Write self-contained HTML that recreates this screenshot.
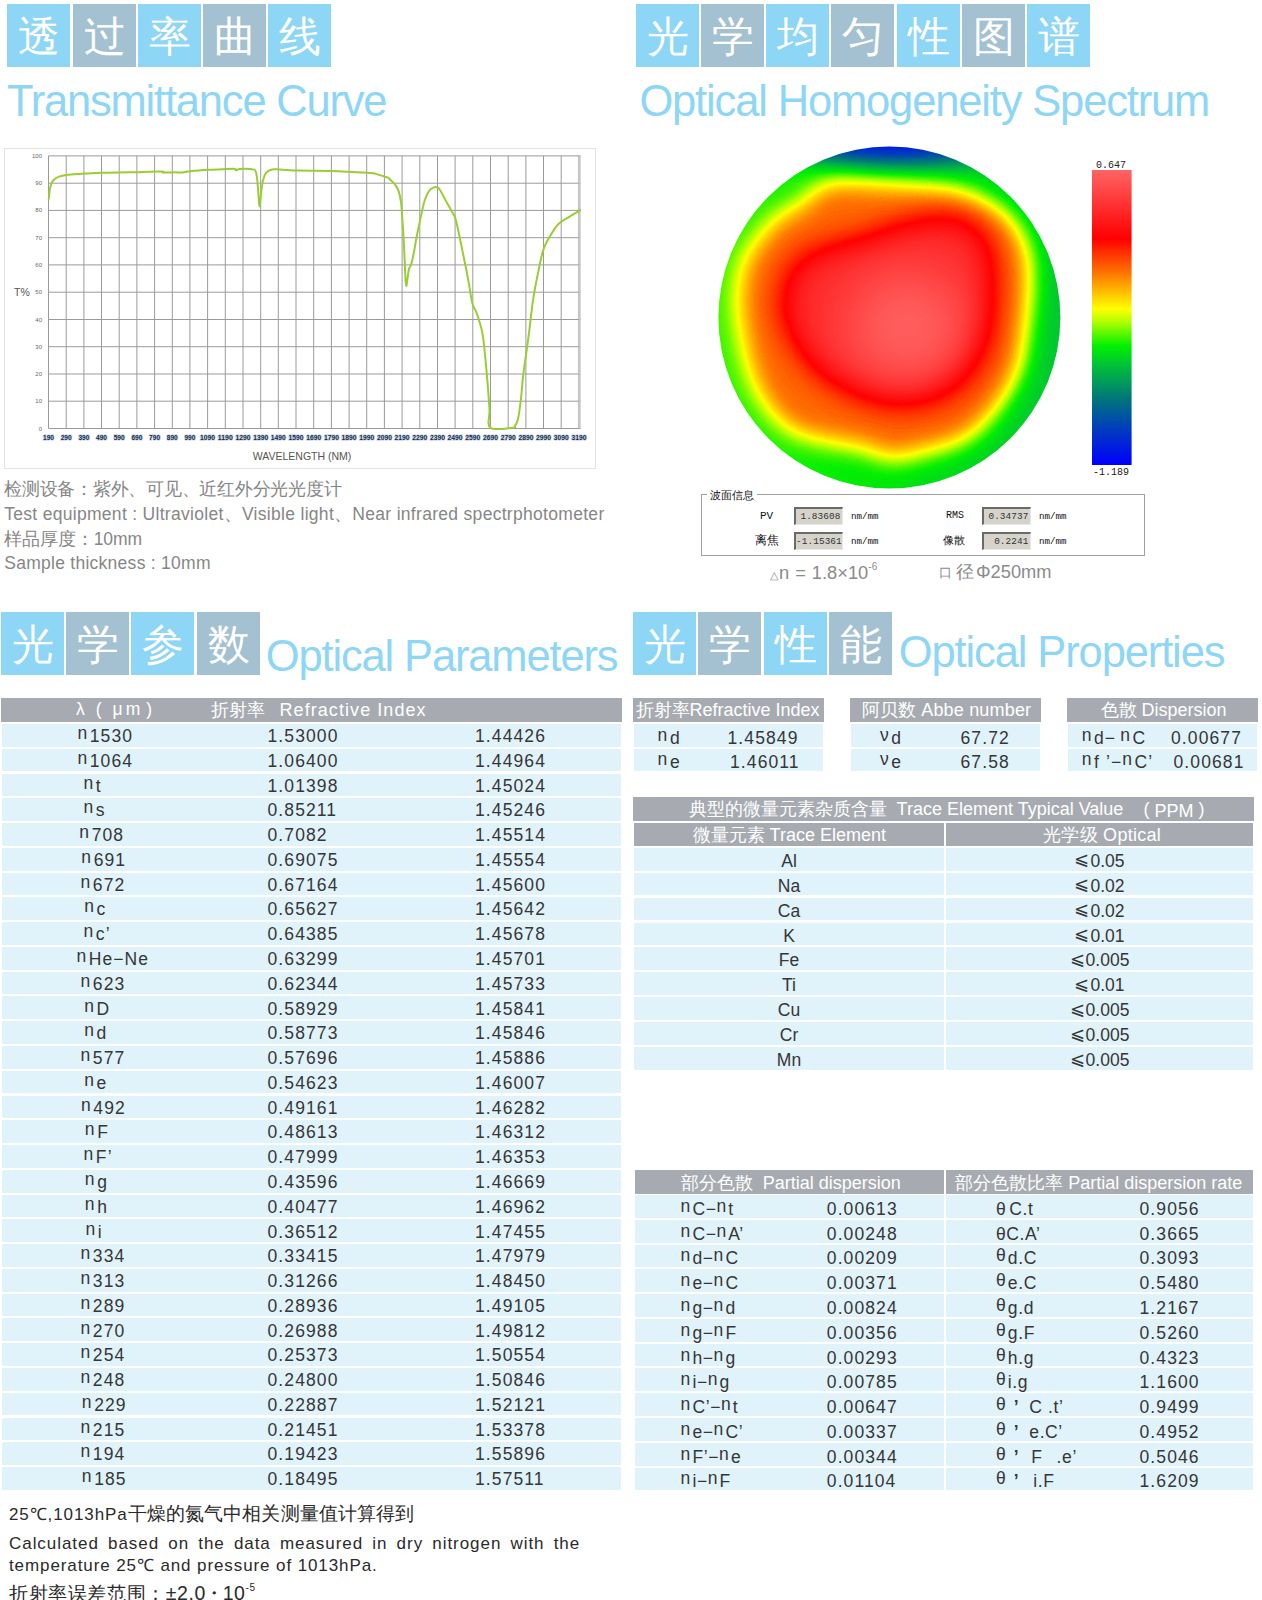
<!DOCTYPE html>
<html><head><meta charset="utf-8"><style>
*{margin:0;padding:0;box-sizing:border-box}
html,body{width:1262px;height:1600px;overflow:hidden;background:#fff}
body{position:relative;font-family:"Liberation Sans",sans-serif;color:#222}
.a{position:absolute;white-space:nowrap}
.bx{position:absolute;width:63px;height:63px;color:#fff;font-size:42px;line-height:66px;text-align:center;font-weight:400}
.lb{background:#8dd6f5}
.gb{background:#a3c1d1}
.ttl{position:absolute;color:#8dd6f5;white-space:nowrap;line-height:1}
.gt{position:absolute;white-space:nowrap;color:#868686;font-size:17.5px;line-height:1}
.hd{position:absolute;background:#a7abb1;color:#fff}
.rw{position:absolute;background:#e0f2fa}
.tx{position:absolute;white-space:nowrap;font-size:17.5px;line-height:1;color:#363636;letter-spacing:1.1px}
.ht{position:absolute;white-space:nowrap;font-size:18px;line-height:1;color:#fff;letter-spacing:0}
.n{position:relative;top:-3px;margin-right:1.5px}
.mono{font-family:"Liberation Mono",monospace}
</style></head><body>
<div class="bx lb" style="left:7px;top:4px">透</div>
<div class="bx gb" style="left:73px;top:4px">过</div>
<div class="bx lb" style="left:138px;top:4px">率</div>
<div class="bx gb" style="left:203px;top:4px">曲</div>
<div class="bx lb" style="left:268px;top:4px">线</div>
<div class="ttl" style="left:7px;top:80.4px;font-size:43.5px;letter-spacing:-1.2px">Transmittance Curve</div>
<div class="bx lb" style="left:636px;top:4px">光</div>
<div class="bx gb" style="left:701px;top:4px">学</div>
<div class="bx lb" style="left:766px;top:4px">均</div>
<div class="bx gb" style="left:831px;top:4px">匀</div>
<div class="bx lb" style="left:897px;top:4px">性</div>
<div class="bx gb" style="left:962px;top:4px">图</div>
<div class="bx lb" style="left:1027px;top:4px">谱</div>
<div class="ttl" style="left:639.4px;top:80.3px;font-size:43.5px;letter-spacing:-1.15px">Optical Homogeneity Spectrum</div>
<div class="bx lb" style="left:1px;top:612px">光</div>
<div class="bx gb" style="left:66px;top:612px">学</div>
<div class="bx lb" style="left:131px;top:612px">参</div>
<div class="bx gb" style="left:197px;top:612px">数</div>
<div class="ttl" style="left:265.7px;top:635px;font-size:43.5px;letter-spacing:-1.14px">Optical Parameters</div>
<div class="bx lb" style="left:633px;top:612px">光</div>
<div class="bx gb" style="left:698px;top:612px">学</div>
<div class="bx lb" style="left:764px;top:612px">性</div>
<div class="bx gb" style="left:829px;top:612px">能</div>
<div class="ttl" style="left:898.8px;top:631px;font-size:43.5px;letter-spacing:-1.12px">Optical Properties</div>
<svg class="a" style="left:0;top:0" width="630" height="480" viewBox="0 0 630 480">
<rect x="4.5" y="148.5" width="591" height="320" fill="#fff" stroke="#e3e3e3" stroke-width="1"/>
<path d="M48.5,155.9V428.5M66.2,155.9V428.5M83.9,155.9V428.5M101.5,155.9V428.5M119.2,155.9V428.5M136.9,155.9V428.5M154.6,155.9V428.5M172.3,155.9V428.5M189.9,155.9V428.5M207.6,155.9V428.5M225.3,155.9V428.5M243.0,155.9V428.5M260.7,155.9V428.5M278.3,155.9V428.5M296.0,155.9V428.5M313.7,155.9V428.5M331.4,155.9V428.5M349.1,155.9V428.5M366.7,155.9V428.5M384.4,155.9V428.5M402.1,155.9V428.5M419.8,155.9V428.5M437.5,155.9V428.5M455.1,155.9V428.5M472.8,155.9V428.5M490.5,155.9V428.5M508.2,155.9V428.5M525.9,155.9V428.5M543.5,155.9V428.5M561.2,155.9V428.5M578.9,155.9V428.5M48.5,155.9H580.7M48.5,183.2H580.7M48.5,210.4H580.7M48.5,237.7H580.7M48.5,264.9H580.7M48.5,292.2H580.7M48.5,319.5H580.7M48.5,346.7H580.7M48.5,374.0H580.7M48.5,401.2H580.7M48.5,428.5H580.7" stroke="#9a9a9a" stroke-width="1" fill="none"/>
<path d="M579.7,155.9V428.5" stroke="#c8c8c8" stroke-width="2" fill="none"/>
<text x="42" y="157.9" font-size="6" fill="#666" text-anchor="end" font-family="Liberation Sans">100</text>
<text x="42" y="185.2" font-size="6" fill="#666" text-anchor="end" font-family="Liberation Sans">90</text>
<text x="42" y="212.4" font-size="6" fill="#666" text-anchor="end" font-family="Liberation Sans">80</text>
<text x="42" y="239.7" font-size="6" fill="#666" text-anchor="end" font-family="Liberation Sans">70</text>
<text x="42" y="266.9" font-size="6" fill="#666" text-anchor="end" font-family="Liberation Sans">60</text>
<text x="42" y="294.2" font-size="6" fill="#666" text-anchor="end" font-family="Liberation Sans">50</text>
<text x="42" y="321.5" font-size="6" fill="#666" text-anchor="end" font-family="Liberation Sans">40</text>
<text x="42" y="348.7" font-size="6" fill="#666" text-anchor="end" font-family="Liberation Sans">30</text>
<text x="42" y="376.0" font-size="6" fill="#666" text-anchor="end" font-family="Liberation Sans">20</text>
<text x="42" y="403.2" font-size="6" fill="#666" text-anchor="end" font-family="Liberation Sans">10</text>
<text x="42" y="430.5" font-size="6" fill="#666" text-anchor="end" font-family="Liberation Sans">0</text>
<text x="48.5" y="439.5" font-size="6.6" fill="#1d2b4a" stroke="#c5d6ea" stroke-width="1.4" paint-order="stroke" font-weight="bold" text-anchor="middle" font-family="Liberation Sans" textLength="11" lengthAdjust="spacingAndGlyphs">190</text>
<text x="66.2" y="439.5" font-size="6.6" fill="#1d2b4a" stroke="#c5d6ea" stroke-width="1.4" paint-order="stroke" font-weight="bold" text-anchor="middle" font-family="Liberation Sans" textLength="11" lengthAdjust="spacingAndGlyphs">290</text>
<text x="83.9" y="439.5" font-size="6.6" fill="#1d2b4a" stroke="#c5d6ea" stroke-width="1.4" paint-order="stroke" font-weight="bold" text-anchor="middle" font-family="Liberation Sans" textLength="11" lengthAdjust="spacingAndGlyphs">390</text>
<text x="101.5" y="439.5" font-size="6.6" fill="#1d2b4a" stroke="#c5d6ea" stroke-width="1.4" paint-order="stroke" font-weight="bold" text-anchor="middle" font-family="Liberation Sans" textLength="11" lengthAdjust="spacingAndGlyphs">490</text>
<text x="119.2" y="439.5" font-size="6.6" fill="#1d2b4a" stroke="#c5d6ea" stroke-width="1.4" paint-order="stroke" font-weight="bold" text-anchor="middle" font-family="Liberation Sans" textLength="11" lengthAdjust="spacingAndGlyphs">590</text>
<text x="136.9" y="439.5" font-size="6.6" fill="#1d2b4a" stroke="#c5d6ea" stroke-width="1.4" paint-order="stroke" font-weight="bold" text-anchor="middle" font-family="Liberation Sans" textLength="11" lengthAdjust="spacingAndGlyphs">690</text>
<text x="154.6" y="439.5" font-size="6.6" fill="#1d2b4a" stroke="#c5d6ea" stroke-width="1.4" paint-order="stroke" font-weight="bold" text-anchor="middle" font-family="Liberation Sans" textLength="11" lengthAdjust="spacingAndGlyphs">790</text>
<text x="172.3" y="439.5" font-size="6.6" fill="#1d2b4a" stroke="#c5d6ea" stroke-width="1.4" paint-order="stroke" font-weight="bold" text-anchor="middle" font-family="Liberation Sans" textLength="11" lengthAdjust="spacingAndGlyphs">890</text>
<text x="189.9" y="439.5" font-size="6.6" fill="#1d2b4a" stroke="#c5d6ea" stroke-width="1.4" paint-order="stroke" font-weight="bold" text-anchor="middle" font-family="Liberation Sans" textLength="11" lengthAdjust="spacingAndGlyphs">990</text>
<text x="207.6" y="439.5" font-size="6.6" fill="#1d2b4a" stroke="#c5d6ea" stroke-width="1.4" paint-order="stroke" font-weight="bold" text-anchor="middle" font-family="Liberation Sans" textLength="15" lengthAdjust="spacingAndGlyphs">1090</text>
<text x="225.3" y="439.5" font-size="6.6" fill="#1d2b4a" stroke="#c5d6ea" stroke-width="1.4" paint-order="stroke" font-weight="bold" text-anchor="middle" font-family="Liberation Sans" textLength="15" lengthAdjust="spacingAndGlyphs">1190</text>
<text x="243.0" y="439.5" font-size="6.6" fill="#1d2b4a" stroke="#c5d6ea" stroke-width="1.4" paint-order="stroke" font-weight="bold" text-anchor="middle" font-family="Liberation Sans" textLength="15" lengthAdjust="spacingAndGlyphs">1290</text>
<text x="260.7" y="439.5" font-size="6.6" fill="#1d2b4a" stroke="#c5d6ea" stroke-width="1.4" paint-order="stroke" font-weight="bold" text-anchor="middle" font-family="Liberation Sans" textLength="15" lengthAdjust="spacingAndGlyphs">1390</text>
<text x="278.3" y="439.5" font-size="6.6" fill="#1d2b4a" stroke="#c5d6ea" stroke-width="1.4" paint-order="stroke" font-weight="bold" text-anchor="middle" font-family="Liberation Sans" textLength="15" lengthAdjust="spacingAndGlyphs">1490</text>
<text x="296.0" y="439.5" font-size="6.6" fill="#1d2b4a" stroke="#c5d6ea" stroke-width="1.4" paint-order="stroke" font-weight="bold" text-anchor="middle" font-family="Liberation Sans" textLength="15" lengthAdjust="spacingAndGlyphs">1590</text>
<text x="313.7" y="439.5" font-size="6.6" fill="#1d2b4a" stroke="#c5d6ea" stroke-width="1.4" paint-order="stroke" font-weight="bold" text-anchor="middle" font-family="Liberation Sans" textLength="15" lengthAdjust="spacingAndGlyphs">1690</text>
<text x="331.4" y="439.5" font-size="6.6" fill="#1d2b4a" stroke="#c5d6ea" stroke-width="1.4" paint-order="stroke" font-weight="bold" text-anchor="middle" font-family="Liberation Sans" textLength="15" lengthAdjust="spacingAndGlyphs">1790</text>
<text x="349.1" y="439.5" font-size="6.6" fill="#1d2b4a" stroke="#c5d6ea" stroke-width="1.4" paint-order="stroke" font-weight="bold" text-anchor="middle" font-family="Liberation Sans" textLength="15" lengthAdjust="spacingAndGlyphs">1890</text>
<text x="366.7" y="439.5" font-size="6.6" fill="#1d2b4a" stroke="#c5d6ea" stroke-width="1.4" paint-order="stroke" font-weight="bold" text-anchor="middle" font-family="Liberation Sans" textLength="15" lengthAdjust="spacingAndGlyphs">1990</text>
<text x="384.4" y="439.5" font-size="6.6" fill="#1d2b4a" stroke="#c5d6ea" stroke-width="1.4" paint-order="stroke" font-weight="bold" text-anchor="middle" font-family="Liberation Sans" textLength="15" lengthAdjust="spacingAndGlyphs">2090</text>
<text x="402.1" y="439.5" font-size="6.6" fill="#1d2b4a" stroke="#c5d6ea" stroke-width="1.4" paint-order="stroke" font-weight="bold" text-anchor="middle" font-family="Liberation Sans" textLength="15" lengthAdjust="spacingAndGlyphs">2190</text>
<text x="419.8" y="439.5" font-size="6.6" fill="#1d2b4a" stroke="#c5d6ea" stroke-width="1.4" paint-order="stroke" font-weight="bold" text-anchor="middle" font-family="Liberation Sans" textLength="15" lengthAdjust="spacingAndGlyphs">2290</text>
<text x="437.5" y="439.5" font-size="6.6" fill="#1d2b4a" stroke="#c5d6ea" stroke-width="1.4" paint-order="stroke" font-weight="bold" text-anchor="middle" font-family="Liberation Sans" textLength="15" lengthAdjust="spacingAndGlyphs">2390</text>
<text x="455.1" y="439.5" font-size="6.6" fill="#1d2b4a" stroke="#c5d6ea" stroke-width="1.4" paint-order="stroke" font-weight="bold" text-anchor="middle" font-family="Liberation Sans" textLength="15" lengthAdjust="spacingAndGlyphs">2490</text>
<text x="472.8" y="439.5" font-size="6.6" fill="#1d2b4a" stroke="#c5d6ea" stroke-width="1.4" paint-order="stroke" font-weight="bold" text-anchor="middle" font-family="Liberation Sans" textLength="15" lengthAdjust="spacingAndGlyphs">2590</text>
<text x="490.5" y="439.5" font-size="6.6" fill="#1d2b4a" stroke="#c5d6ea" stroke-width="1.4" paint-order="stroke" font-weight="bold" text-anchor="middle" font-family="Liberation Sans" textLength="15" lengthAdjust="spacingAndGlyphs">2690</text>
<text x="508.2" y="439.5" font-size="6.6" fill="#1d2b4a" stroke="#c5d6ea" stroke-width="1.4" paint-order="stroke" font-weight="bold" text-anchor="middle" font-family="Liberation Sans" textLength="15" lengthAdjust="spacingAndGlyphs">2790</text>
<text x="525.9" y="439.5" font-size="6.6" fill="#1d2b4a" stroke="#c5d6ea" stroke-width="1.4" paint-order="stroke" font-weight="bold" text-anchor="middle" font-family="Liberation Sans" textLength="15" lengthAdjust="spacingAndGlyphs">2890</text>
<text x="543.5" y="439.5" font-size="6.6" fill="#1d2b4a" stroke="#c5d6ea" stroke-width="1.4" paint-order="stroke" font-weight="bold" text-anchor="middle" font-family="Liberation Sans" textLength="15" lengthAdjust="spacingAndGlyphs">2990</text>
<text x="561.2" y="439.5" font-size="6.6" fill="#1d2b4a" stroke="#c5d6ea" stroke-width="1.4" paint-order="stroke" font-weight="bold" text-anchor="middle" font-family="Liberation Sans" textLength="15" lengthAdjust="spacingAndGlyphs">3090</text>
<text x="578.9" y="439.5" font-size="6.6" fill="#1d2b4a" stroke="#c5d6ea" stroke-width="1.4" paint-order="stroke" font-weight="bold" text-anchor="middle" font-family="Liberation Sans" textLength="15" lengthAdjust="spacingAndGlyphs">3190</text>
<text x="14" y="296" font-size="10.5" fill="#555" font-family="Liberation Sans">T%</text>
<text x="302" y="460" font-size="10.5" fill="#555" text-anchor="middle" font-family="Liberation Sans">WAVELENGTH (NM)</text>
<path d="M48.7,199.5 C48.9,197.6 49.4,191.7 50.0,188.6 C50.6,185.5 51.1,184.1 52.0,182.3 C52.9,180.6 53.7,179.8 55.0,178.8 C56.3,177.8 56.9,177.3 59.0,176.6 C61.1,175.9 62.6,175.5 66.4,175.0 C70.2,174.5 73.8,174.3 80.0,173.9 C86.2,173.5 92.0,173.1 101.0,172.8 C110.0,172.5 119.2,172.5 130.0,172.3 C140.8,172.0 155.1,171.4 161.0,171.4 C166.9,171.5 160.5,172.4 163.0,172.5 C165.5,172.7 171.4,172.3 175.0,172.3 C178.6,172.3 180.3,172.7 183.0,172.5 C185.7,172.3 185.1,171.7 190.0,171.2 C194.9,170.7 202.3,170.2 210.0,169.8 C217.7,169.4 228.3,168.6 233.0,168.7 C237.7,168.8 234.7,170.3 236.0,170.3 C237.3,170.4 237.1,169.2 240.0,169.0 C242.9,168.8 249.1,168.7 252.0,169.3 C254.9,169.8 254.9,168.8 256.0,172.3 C257.1,175.7 257.4,182.5 258.0,188.6 C258.6,194.7 259.0,205.3 259.5,206.3 C260.0,207.3 260.4,198.7 261.0,194.1 C261.6,189.4 262.1,184.3 263.0,180.4 C263.9,176.6 264.4,174.8 266.0,172.8 C267.6,170.8 269.5,170.1 272.0,169.5 C274.5,168.9 275.0,169.3 280.0,169.5 C285.0,169.7 291.0,170.4 300.0,170.6 C309.0,170.9 317.8,170.5 330.0,170.9 C342.2,171.3 359.9,172.3 368.0,172.8 C376.1,173.3 372.2,173.0 375.0,173.6 C377.8,174.3 381.2,175.6 383.5,176.3 C385.8,177.1 386.6,177.0 388.0,177.7 C389.4,178.4 389.7,179.2 391.0,180.4 C392.3,181.7 393.6,182.6 395.0,184.5 C396.4,186.5 397.6,188.1 398.7,191.3 C399.8,194.5 400.3,196.8 401.0,202.2 C401.7,207.6 402.0,213.5 402.5,221.3 C403.0,229.2 403.5,236.0 404.0,245.9 C404.5,255.7 404.9,268.6 405.3,275.8 C405.7,283.1 405.9,285.4 406.3,285.9 C406.7,286.4 407.0,281.6 407.5,278.6 C408.0,275.5 408.3,271.7 409.0,269.0 C409.7,266.3 410.5,266.7 411.4,263.6 C412.3,260.5 413.0,257.0 414.0,251.9 C415.0,246.7 415.6,241.9 417.0,235.0 C418.4,228.0 420.2,219.5 421.6,213.1 C423.0,206.8 423.6,203.5 425.0,199.5 C426.4,195.5 427.8,192.9 429.2,190.8 C430.6,188.7 431.6,188.4 433.0,187.8 C434.4,187.2 435.5,186.9 436.8,187.2 C438.1,187.6 438.2,187.2 440.0,190.0 C441.8,192.8 444.7,198.9 446.9,202.8 C449.1,206.7 450.4,208.7 452.0,211.8 C453.6,214.9 454.0,213.3 455.8,220.0 C457.6,226.6 459.8,238.0 462.0,248.6 C464.2,259.1 466.1,268.8 468.0,278.6 C469.9,288.4 470.7,296.7 472.3,303.1 C473.9,309.5 475.2,308.6 477.0,314.0 C478.8,319.4 481.0,325.7 482.4,333.1 C483.8,340.5 484.1,346.1 485.0,354.9 C485.9,363.7 486.7,372.3 487.5,382.2 C488.3,392.0 489.0,401.2 489.5,409.4 C490.0,417.6 486.3,424.4 490.5,427.7 C494.7,431.0 508.4,428.0 512.8,427.7 C517.2,427.3 514.1,427.3 515.0,425.8 C515.9,424.2 516.9,423.9 518.0,419.0 C519.1,414.1 520.1,406.1 521.0,398.5 C521.9,390.9 522.1,384.6 523.0,376.7 C523.9,368.9 524.9,362.7 526.0,354.9 C527.1,347.0 527.7,342.9 529.0,333.1 C530.3,323.3 531.4,311.2 533.0,300.4 C534.6,289.6 536.1,282.2 538.0,273.1 C539.9,264.0 541.1,256.6 543.3,249.9 C545.5,243.3 547.3,241.0 550.0,236.3 C552.7,231.7 554.9,227.6 558.5,224.0 C562.1,220.5 566.0,219.0 570.0,216.4 C574.0,213.9 578.9,211.1 580.8,209.9" stroke="#9acd32" stroke-width="2" fill="none" stroke-linejoin="round"/>
</svg>
<div class="gt" style="left:4.2px;top:481px;letter-spacing:-0.25px">检测设备：紫外、可见、近红外分光光度计</div>
<div class="gt" style="left:4.2px;top:506.1px;letter-spacing:0.3px">Test equipment : Ultraviolet、Visible light、Near infrared spectrphotometer</div>
<div class="gt" style="left:4.2px;top:530.5px;letter-spacing:-0.1px">样品厚度：10mm</div>
<div class="gt" style="left:4.2px;top:555.1px;letter-spacing:0.27px">Sample thickness : 10mm</div>
<svg class="a" style="left:630px;top:130px" width="632" height="370" viewBox="630 130 632 370">
<defs>
<clipPath id="cc"><circle cx="889.4" cy="317.5" r="171.0"/></clipPath>
<filter id="cm" filterUnits="userSpaceOnUse" x="700" y="130" width="380" height="370" color-interpolation-filters="sRGB"><feComponentTransfer><feFuncR type="table" tableValues="0.000 0.000 0.000 0.000 0.000 0.000 0.000 0.000 0.000 0.000 0.000 0.000 0.000 0.000 0.000 0.000 0.000 0.000 0.000 0.000 0.000 0.000 0.000 0.000 0.000 0.000 0.027 0.159 0.290 0.421 0.553 0.684 0.797 0.906 1.000 1.000 1.000 1.000 1.000 1.000 1.000 1.000 1.000 1.000 1.000 1.000 1.000 1.000 1.000 1.000 1.000 1.000 1.000 1.000 1.000 1.000 1.000 1.000 1.000 1.000 1.000 1.000 1.000 1.000 1.000"/><feFuncG type="table" tableValues="0.000 0.030 0.060 0.090 0.120 0.149 0.179 0.209 0.240 0.275 0.310 0.345 0.380 0.415 0.450 0.487 0.528 0.569 0.610 0.651 0.692 0.732 0.775 0.819 0.863 0.907 0.943 0.954 0.965 0.976 0.987 0.998 1.000 1.000 0.990 0.920 0.851 0.781 0.712 0.642 0.573 0.503 0.438 0.376 0.314 0.253 0.191 0.129 0.067 0.005 0.024 0.050 0.077 0.103 0.129 0.155 0.182 0.208 0.234 0.261 0.287 0.313 0.340 0.366 0.392"/><feFuncB type="table" tableValues="1.000 0.968 0.935 0.903 0.870 0.838 0.806 0.773 0.740 0.699 0.658 0.617 0.576 0.536 0.495 0.456 0.421 0.386 0.351 0.316 0.281 0.246 0.199 0.147 0.094 0.042 0.000 0.000 0.000 0.000 0.000 0.000 0.000 0.000 0.000 0.000 0.000 0.000 0.000 0.000 0.000 0.000 0.000 0.000 0.000 0.000 0.000 0.000 0.000 0.000 0.024 0.050 0.077 0.103 0.129 0.155 0.182 0.208 0.234 0.261 0.287 0.313 0.340 0.366 0.392"/></feComponentTransfer></filter>
<filter id="b1" filterUnits="userSpaceOnUse" x="650" y="80" width="500" height="470" color-interpolation-filters="sRGB"><feGaussianBlur stdDeviation="13"/></filter>
<filter id="b2" filterUnits="userSpaceOnUse" x="650" y="80" width="500" height="470" color-interpolation-filters="sRGB"><feGaussianBlur stdDeviation="16"/></filter>
<filter id="b3" filterUnits="userSpaceOnUse" x="650" y="80" width="500" height="470" color-interpolation-filters="sRGB"><feGaussianBlur stdDeviation="30"/></filter>
<filter id="b4" filterUnits="userSpaceOnUse" x="650" y="80" width="500" height="470" color-interpolation-filters="sRGB"><feGaussianBlur stdDeviation="14"/></filter>
</defs>
<g clip-path="url(#cc)"><g filter="url(#cm)">
<linearGradient id="bg" x1="718" y1="0" x2="1060" y2="0" gradientUnits="userSpaceOnUse"><stop offset="0" stop-color="rgb(110,110,110)"/><stop offset="1" stop-color="rgb(89,89,89)"/></linearGradient>
<rect x="700" y="130" width="380" height="370" fill="url(#bg)"/>
<ellipse cx="893" cy="128" rx="120" ry="32" fill="#000" filter="url(#b4)"/>
<path d="M739.0,305.0 C738.1,287.0 742.3,272.0 745.0,262.0 C747.7,252.0 749.5,252.3 755.0,245.0 C760.5,237.7 770.0,224.8 778.0,218.0 C786.0,211.2 794.8,209.7 803.0,204.0 C811.2,198.3 814.2,187.4 827.0,184.0 C839.8,180.6 858.7,182.8 880.0,183.7 C901.3,184.6 935.9,185.9 955.0,189.7 C974.1,193.4 984.3,200.4 994.4,206.2 C1004.5,212.0 1009.7,216.3 1015.5,224.3 C1021.3,232.3 1026.5,243.3 1029.0,254.4 C1031.5,265.4 1030.8,279.7 1030.6,290.6 C1030.3,301.5 1029.5,306.7 1027.5,320.0 C1025.5,333.3 1024.1,354.9 1018.5,370.2 C1012.9,385.5 1003.0,400.4 994.0,412.0 C985.0,423.6 975.8,432.9 964.3,439.5 C952.8,446.1 935.9,448.5 925.2,451.5 C914.5,454.5 907.5,456.8 900.0,457.5 C892.5,458.2 885.3,457.5 880.0,456.0 C874.7,454.5 875.0,450.7 868.0,448.5 C861.0,446.3 849.7,445.6 838.0,443.0 C826.3,440.4 807.7,436.8 798.0,433.0 C788.3,429.2 785.3,425.0 780.0,420.0 C774.7,415.0 770.9,411.3 766.0,403.0 C761.1,394.7 755.1,386.5 750.6,370.2 C746.1,353.9 739.9,323.0 739.0,305.0Z" fill="rgb(170,170,170)" filter="url(#b1)"/>
<path d="M782.3,310.0 C780.8,302.0 783.4,299.0 785.0,292.0 C786.6,285.0 786.2,275.0 792.0,268.0 C797.8,261.0 808.6,254.5 820.0,250.0 C831.4,245.5 850.6,243.7 860.6,241.0 C870.6,238.3 872.6,236.7 880.0,234.0 C887.4,231.3 893.7,227.8 905.0,225.0 C916.3,222.2 935.6,216.3 947.7,217.0 C959.9,217.7 970.9,223.2 977.9,229.0 C984.9,234.8 987.8,244.3 990.0,252.0 C992.2,259.7 991.5,266.2 991.0,275.0 C990.5,283.8 989.0,295.0 987.0,305.0 C985.0,315.0 982.7,325.5 979.0,335.0 C975.3,344.5 970.7,353.8 965.0,362.0 C959.3,370.2 953.8,378.3 945.0,384.0 C936.2,389.7 922.8,394.2 912.0,396.0 C901.2,397.8 888.6,396.2 880.0,395.0 C871.4,393.8 867.6,391.4 860.6,389.0 C853.6,386.6 845.5,384.4 838.0,380.8 C830.5,377.2 822.7,374.0 815.4,367.2 C808.1,360.4 799.8,349.6 794.3,340.1 C788.8,330.6 783.8,318.0 782.3,310.0Z" fill="rgb(220,220,220)" filter="url(#b2)"/>
<ellipse cx="907" cy="326" rx="62" ry="56" fill="#fff" filter="url(#b3)"/>
</g></g>
<defs><linearGradient id="cb" x1="0" y1="0" x2="0" y2="1">
<stop offset="0.000" stop-color="rgb(255,100,100)"/>
<stop offset="0.233" stop-color="rgb(255,0,0)"/>
<stop offset="0.352" stop-color="rgb(255,120,0)"/>
<stop offset="0.471" stop-color="rgb(255,255,0)"/>
<stop offset="0.513" stop-color="rgb(180,255,0)"/>
<stop offset="0.597" stop-color="rgb(0,240,0)"/>
<stop offset="0.667" stop-color="rgb(0,190,60)"/>
<stop offset="0.772" stop-color="rgb(0,120,120)"/>
<stop offset="0.877" stop-color="rgb(0,60,190)"/>
<stop offset="1.000" stop-color="rgb(0,0,255)"/>
</linearGradient></defs>
<rect x="1092" y="170" width="39.6" height="295" fill="url(#cb)"/>
<text x="1111" y="168" font-size="10" font-family="Liberation Mono" text-anchor="middle" fill="#222">0.647</text>
<text x="1111" y="475" font-size="10" font-family="Liberation Mono" text-anchor="middle" fill="#222">-1.189</text>
</svg>
<div class="a" style="left:701px;top:494px;width:444px;height:62px;border:1px solid #a0a0a0"></div>
<div class="a" style="left:707px;top:487.5px;padding:0 3px;background:#fff;font-size:11.3px;line-height:15px;color:#111">波面信息</div>
<div class="a mono" style="left:794px;top:507px;width:49px;height:18px;background:#d6d3cb;border-top:2px solid #6a6a6a;border-left:2px solid #6a6a6a;border-bottom:1px solid #e8e8e8;border-right:1px solid #e8e8e8;font-size:9.4px;line-height:15px;text-align:right;padding-right:1.5px;color:#333;letter-spacing:0.1px">1.83608</div>
<div class="a mono" style="left:794px;top:532px;width:49px;height:18px;background:#d6d3cb;border-top:2px solid #6a6a6a;border-left:2px solid #6a6a6a;border-bottom:1px solid #e8e8e8;border-right:1px solid #e8e8e8;font-size:9.4px;line-height:15px;text-align:right;padding-right:1.5px;color:#333;letter-spacing:0.1px">-1.15361</div>
<div class="a mono" style="left:982px;top:507px;width:49px;height:18px;background:#d6d3cb;border-top:2px solid #6a6a6a;border-left:2px solid #6a6a6a;border-bottom:1px solid #e8e8e8;border-right:1px solid #e8e8e8;font-size:9.4px;line-height:15px;text-align:right;padding-right:1.5px;color:#333;letter-spacing:0.1px">0.34737</div>
<div class="a mono" style="left:982px;top:532px;width:49px;height:18px;background:#d6d3cb;border-top:2px solid #6a6a6a;border-left:2px solid #6a6a6a;border-bottom:1px solid #e8e8e8;border-right:1px solid #e8e8e8;font-size:9.4px;line-height:15px;text-align:right;padding-right:1.5px;color:#333;letter-spacing:0.1px">0.2241</div>
<div class="a mono" style="left:760px;top:510px;font-size:11px;color:#111">PV</div>
<div class="a mono" style="left:946px;top:510px;font-size:10px;color:#111">RMS</div>
<div class="a" style="left:755px;top:533px;font-size:11.5px;color:#111">离焦</div>
<div class="a" style="left:943px;top:533px;font-size:11px;color:#111">像散</div>
<div class="a mono" style="left:851px;top:511px;font-size:9.2px;color:#111;letter-spacing:0">nm/mm</div>
<div class="a mono" style="left:851px;top:536px;font-size:9.2px;color:#111;letter-spacing:0">nm/mm</div>
<div class="a mono" style="left:1039px;top:511px;font-size:9.2px;color:#111;letter-spacing:0">nm/mm</div>
<div class="a mono" style="left:1039px;top:536px;font-size:9.2px;color:#111;letter-spacing:0">nm/mm</div>
<div class="gt" style="left:770px;top:563.5px;color:#8a8a8a;font-size:18.3px"><span style="font-size:11px">△</span><span style="margin-left:1px">n</span><span style="margin-left:6px">=</span><span style="margin-left:6px">1.8×10</span><sup style="font-size:10px;position:relative;top:-2px;vertical-align:top">-6</sup></div>
<div class="gt" style="left:939px;top:563px;color:#8a8a8a;font-size:18.3px"><span style="font-size:13px;position:relative;top:-1.5px">口</span><span style="margin-left:4px">径</span><span style="margin-left:2px">Φ</span>250mm</div>
<div class="hd" style="left:1px;top:698px;width:621px;height:24px"></div>
<div class="ht" style="left:76px;top:701.3px;letter-spacing:0;font-size:17.5px">λ<span style="margin-left:11px">(</span><span style="margin-left:11px">μ</span><span style="margin-left:3px">m</span><span style="margin-left:6px">)</span></div>
<div class="ht" style="left:210.5px;top:701.3px">折射率<span style="margin-left:15px;letter-spacing:1.07px">Refractive Index</span></div>
<div class="rw" style="left:2px;top:724.00px;width:619px;height:22.7px"></div>
<div class="tx" style="left:77.4px;top:728.10px"><span class="n">n</span>1530</div>
<div class="tx" style="left:267.5px;top:728.10px">1.53000</div>
<div class="tx" style="left:475px;top:728.10px">1.44426</div>
<div class="rw" style="left:2px;top:748.77px;width:619px;height:22.7px"></div>
<div class="tx" style="left:77.4px;top:752.87px"><span class="n">n</span>1064</div>
<div class="tx" style="left:267.5px;top:752.87px">1.06400</div>
<div class="tx" style="left:475px;top:752.87px">1.44964</div>
<div class="rw" style="left:2px;top:773.54px;width:619px;height:22.7px"></div>
<div class="tx" style="left:83.5px;top:777.64px"><span class="n">n</span>t</div>
<div class="tx" style="left:267.5px;top:777.64px">1.01398</div>
<div class="tx" style="left:475px;top:777.64px">1.45024</div>
<div class="rw" style="left:2px;top:798.31px;width:619px;height:22.7px"></div>
<div class="tx" style="left:83.5px;top:802.41px"><span class="n">n</span>s</div>
<div class="tx" style="left:267.5px;top:802.41px">0.85211</div>
<div class="tx" style="left:475px;top:802.41px">1.45246</div>
<div class="rw" style="left:2px;top:823.08px;width:619px;height:22.7px"></div>
<div class="tx" style="left:79.3px;top:827.18px"><span class="n">n</span>708</div>
<div class="tx" style="left:267.5px;top:827.18px">0.7082</div>
<div class="tx" style="left:475px;top:827.18px">1.45514</div>
<div class="rw" style="left:2px;top:847.85px;width:619px;height:22.7px"></div>
<div class="tx" style="left:81.3px;top:851.95px"><span class="n">n</span>691</div>
<div class="tx" style="left:267.5px;top:851.95px">0.69075</div>
<div class="tx" style="left:475px;top:851.95px">1.45554</div>
<div class="rw" style="left:2px;top:872.62px;width:619px;height:22.7px"></div>
<div class="tx" style="left:80.5px;top:876.72px"><span class="n">n</span>672</div>
<div class="tx" style="left:267.5px;top:876.72px">0.67164</div>
<div class="tx" style="left:475px;top:876.72px">1.45600</div>
<div class="rw" style="left:2px;top:897.39px;width:619px;height:22.7px"></div>
<div class="tx" style="left:84.2px;top:901.49px"><span class="n">n</span>c</div>
<div class="tx" style="left:267.5px;top:901.49px">0.65627</div>
<div class="tx" style="left:475px;top:901.49px">1.45642</div>
<div class="rw" style="left:2px;top:922.16px;width:619px;height:22.7px"></div>
<div class="tx" style="left:83.5px;top:926.26px"><span class="n">n</span>c’</div>
<div class="tx" style="left:267.5px;top:926.26px">0.64385</div>
<div class="tx" style="left:475px;top:926.26px">1.45678</div>
<div class="rw" style="left:2px;top:946.93px;width:619px;height:22.7px"></div>
<div class="tx" style="left:76.4px;top:951.03px"><span class="n">n</span>He−Ne</div>
<div class="tx" style="left:267.5px;top:951.03px">0.63299</div>
<div class="tx" style="left:475px;top:951.03px">1.45701</div>
<div class="rw" style="left:2px;top:971.70px;width:619px;height:22.7px"></div>
<div class="tx" style="left:80.5px;top:975.80px"><span class="n">n</span>623</div>
<div class="tx" style="left:267.5px;top:975.80px">0.62344</div>
<div class="tx" style="left:475px;top:975.80px">1.45733</div>
<div class="rw" style="left:2px;top:996.47px;width:619px;height:22.7px"></div>
<div class="tx" style="left:84.2px;top:1000.57px"><span class="n">n</span>D</div>
<div class="tx" style="left:267.5px;top:1000.57px">0.58929</div>
<div class="tx" style="left:475px;top:1000.57px">1.45841</div>
<div class="rw" style="left:2px;top:1021.24px;width:619px;height:22.7px"></div>
<div class="tx" style="left:84.2px;top:1025.34px"><span class="n">n</span>d</div>
<div class="tx" style="left:267.5px;top:1025.34px">0.58773</div>
<div class="tx" style="left:475px;top:1025.34px">1.45846</div>
<div class="rw" style="left:2px;top:1046.01px;width:619px;height:22.7px"></div>
<div class="tx" style="left:80.5px;top:1050.11px"><span class="n">n</span>577</div>
<div class="tx" style="left:267.5px;top:1050.11px">0.57696</div>
<div class="tx" style="left:475px;top:1050.11px">1.45886</div>
<div class="rw" style="left:2px;top:1070.78px;width:619px;height:22.7px"></div>
<div class="tx" style="left:84.2px;top:1074.88px"><span class="n">n</span>e</div>
<div class="tx" style="left:267.5px;top:1074.88px">0.54623</div>
<div class="tx" style="left:475px;top:1074.88px">1.46007</div>
<div class="rw" style="left:2px;top:1095.55px;width:619px;height:22.7px"></div>
<div class="tx" style="left:81.0px;top:1099.65px"><span class="n">n</span>492</div>
<div class="tx" style="left:267.5px;top:1099.65px">0.49161</div>
<div class="tx" style="left:475px;top:1099.65px">1.46282</div>
<div class="rw" style="left:2px;top:1120.32px;width:619px;height:22.7px"></div>
<div class="tx" style="left:84.8px;top:1124.42px"><span class="n">n</span>F</div>
<div class="tx" style="left:267.5px;top:1124.42px">0.48613</div>
<div class="tx" style="left:475px;top:1124.42px">1.46312</div>
<div class="rw" style="left:2px;top:1145.09px;width:619px;height:22.7px"></div>
<div class="tx" style="left:83.5px;top:1149.19px"><span class="n">n</span>F’</div>
<div class="tx" style="left:267.5px;top:1149.19px">0.47999</div>
<div class="tx" style="left:475px;top:1149.19px">1.46353</div>
<div class="rw" style="left:2px;top:1169.86px;width:619px;height:22.7px"></div>
<div class="tx" style="left:84.8px;top:1173.96px"><span class="n">n</span>g</div>
<div class="tx" style="left:267.5px;top:1173.96px">0.43596</div>
<div class="tx" style="left:475px;top:1173.96px">1.46669</div>
<div class="rw" style="left:2px;top:1194.63px;width:619px;height:22.7px"></div>
<div class="tx" style="left:84.8px;top:1198.73px"><span class="n">n</span>h</div>
<div class="tx" style="left:267.5px;top:1198.73px">0.40477</div>
<div class="tx" style="left:475px;top:1198.73px">1.46962</div>
<div class="rw" style="left:2px;top:1219.40px;width:619px;height:22.7px"></div>
<div class="tx" style="left:85.5px;top:1223.50px"><span class="n">n</span>i</div>
<div class="tx" style="left:267.5px;top:1223.50px">0.36512</div>
<div class="tx" style="left:475px;top:1223.50px">1.47455</div>
<div class="rw" style="left:2px;top:1244.17px;width:619px;height:22.7px"></div>
<div class="tx" style="left:80.5px;top:1248.27px"><span class="n">n</span>334</div>
<div class="tx" style="left:267.5px;top:1248.27px">0.33415</div>
<div class="tx" style="left:475px;top:1248.27px">1.47979</div>
<div class="rw" style="left:2px;top:1268.94px;width:619px;height:22.7px"></div>
<div class="tx" style="left:80.5px;top:1273.04px"><span class="n">n</span>313</div>
<div class="tx" style="left:267.5px;top:1273.04px">0.31266</div>
<div class="tx" style="left:475px;top:1273.04px">1.48450</div>
<div class="rw" style="left:2px;top:1293.71px;width:619px;height:22.7px"></div>
<div class="tx" style="left:80.5px;top:1297.81px"><span class="n">n</span>289</div>
<div class="tx" style="left:267.5px;top:1297.81px">0.28936</div>
<div class="tx" style="left:475px;top:1297.81px">1.49105</div>
<div class="rw" style="left:2px;top:1318.48px;width:619px;height:22.7px"></div>
<div class="tx" style="left:80.5px;top:1322.58px"><span class="n">n</span>270</div>
<div class="tx" style="left:267.5px;top:1322.58px">0.26988</div>
<div class="tx" style="left:475px;top:1322.58px">1.49812</div>
<div class="rw" style="left:2px;top:1343.25px;width:619px;height:22.7px"></div>
<div class="tx" style="left:80.5px;top:1347.35px"><span class="n">n</span>254</div>
<div class="tx" style="left:267.5px;top:1347.35px">0.25373</div>
<div class="tx" style="left:475px;top:1347.35px">1.50554</div>
<div class="rw" style="left:2px;top:1368.02px;width:619px;height:22.7px"></div>
<div class="tx" style="left:80.5px;top:1372.12px"><span class="n">n</span>248</div>
<div class="tx" style="left:267.5px;top:1372.12px">0.24800</div>
<div class="tx" style="left:475px;top:1372.12px">1.50846</div>
<div class="rw" style="left:2px;top:1392.79px;width:619px;height:22.7px"></div>
<div class="tx" style="left:81.8px;top:1396.89px"><span class="n">n</span>229</div>
<div class="tx" style="left:267.5px;top:1396.89px">0.22887</div>
<div class="tx" style="left:475px;top:1396.89px">1.52121</div>
<div class="rw" style="left:2px;top:1417.56px;width:619px;height:22.7px"></div>
<div class="tx" style="left:80.5px;top:1421.66px"><span class="n">n</span>215</div>
<div class="tx" style="left:267.5px;top:1421.66px">0.21451</div>
<div class="tx" style="left:475px;top:1421.66px">1.53378</div>
<div class="rw" style="left:2px;top:1442.33px;width:619px;height:22.7px"></div>
<div class="tx" style="left:80.5px;top:1446.43px"><span class="n">n</span>194</div>
<div class="tx" style="left:267.5px;top:1446.43px">0.19423</div>
<div class="tx" style="left:475px;top:1446.43px">1.55896</div>
<div class="rw" style="left:2px;top:1467.10px;width:619px;height:22.7px"></div>
<div class="tx" style="left:81.8px;top:1471.20px"><span class="n">n</span>185</div>
<div class="tx" style="left:267.5px;top:1471.20px">0.18495</div>
<div class="tx" style="left:475px;top:1471.20px">1.57511</div>
<div class="hd" style="left:633px;top:698px;width:191px;height:24px"></div>
<div class="hd" style="left:850px;top:698px;width:191px;height:24px"></div>
<div class="hd" style="left:1067px;top:698px;width:191px;height:24px"></div>
<div class="rw" style="left:634px;top:724.2px;width:189px;height:22.5px"></div>
<div class="rw" style="left:851px;top:724.2px;width:189px;height:22.5px"></div>
<div class="rw" style="left:1068px;top:724.2px;width:189px;height:22.5px"></div>
<div class="rw" style="left:634px;top:748.8px;width:189px;height:22.5px"></div>
<div class="rw" style="left:851px;top:748.8px;width:189px;height:22.5px"></div>
<div class="rw" style="left:1068px;top:748.8px;width:189px;height:22.5px"></div>
<div class="ht" style="left:635.5px;top:701.3px;letter-spacing:0">折射率Refractive Index</div>
<div class="ht" style="left:861.5px;top:701.3px;letter-spacing:0.18px">阿贝数 Abbe number</div>
<div class="ht" style="left:1100.5px;top:701.3px;letter-spacing:0">色散 Dispersion</div>
<div class="tx" style="left:657.6px;top:729.5px;"><span class="n">n</span>d</div>
<div class="tx" style="left:727.5px;top:729.5px;">1.45849</div>
<div class="tx" style="left:657.6px;top:754.0px;"><span class="n">n</span>e</div>
<div class="tx" style="left:730.0px;top:754.0px;">1.46011</div>
<div class="tx" style="left:880.0px;top:729.5px;"><span class="n">ν</span>d</div>
<div class="tx" style="left:960.5px;top:729.5px;">67.72</div>
<div class="tx" style="left:880.0px;top:754.0px;"><span class="n">ν</span>e</div>
<div class="tx" style="left:960.5px;top:754.0px;">67.58</div>
<div class="tx" style="left:1081.7px;top:729.5px;"><span class="n">n</span>d−<span style="margin-left:4px"></span><span class="n">n</span>C</div>
<div class="tx" style="left:1171.0px;top:729.5px;">0.00677</div>
<div class="tx" style="left:1081.7px;top:754.0px;"><span class="n">n</span>f ’−<span class="n">n</span>C’</div>
<div class="tx" style="left:1173.5px;top:754.0px;">0.00681</div>
<div class="hd" style="left:633px;top:797px;width:621px;height:24px"></div>
<div class="hd" style="left:634px;top:823px;width:310px;height:23px"></div>
<div class="hd" style="left:946px;top:823px;width:307px;height:23px"></div>
<div class="ht" style="left:688.6px;top:800.3px;letter-spacing:0">典型的微量元素杂质含量<span style="margin-left:10px">Trace Element Typical Value</span><span style="margin-left:20px">(</span><span style="position:relative;top:2px;margin-left:5px">PPM</span><span style="margin-left:5px">)</span></div>
<div class="ht" style="left:692.6px;top:826.3px;letter-spacing:0">微量元素 Trace Element</div>
<div class="ht" style="left:1043px;top:826.3px;letter-spacing:0.28px">光学级 Optical</div>
<div class="rw" style="left:634px;top:847.80px;width:310px;height:22.8px"></div>
<div class="rw" style="left:946px;top:847.80px;width:307px;height:22.8px"></div>
<div class="tx" style="left:634px;width:310px;text-align:center;top:852.80px;letter-spacing:0">Al</div>
<div class="tx" style="left:946px;width:307px;text-align:center;top:852.80px;letter-spacing:0"><span style="position:relative;top:-1.5px;margin-right:1px">⩽</span>0.05</div>
<div class="rw" style="left:634px;top:872.70px;width:310px;height:22.8px"></div>
<div class="rw" style="left:946px;top:872.70px;width:307px;height:22.8px"></div>
<div class="tx" style="left:634px;width:310px;text-align:center;top:877.70px;letter-spacing:0">Na</div>
<div class="tx" style="left:946px;width:307px;text-align:center;top:877.70px;letter-spacing:0"><span style="position:relative;top:-1.5px;margin-right:1px">⩽</span>0.02</div>
<div class="rw" style="left:634px;top:897.60px;width:310px;height:22.8px"></div>
<div class="rw" style="left:946px;top:897.60px;width:307px;height:22.8px"></div>
<div class="tx" style="left:634px;width:310px;text-align:center;top:902.60px;letter-spacing:0">Ca</div>
<div class="tx" style="left:946px;width:307px;text-align:center;top:902.60px;letter-spacing:0"><span style="position:relative;top:-1.5px;margin-right:1px">⩽</span>0.02</div>
<div class="rw" style="left:634px;top:922.50px;width:310px;height:22.8px"></div>
<div class="rw" style="left:946px;top:922.50px;width:307px;height:22.8px"></div>
<div class="tx" style="left:634px;width:310px;text-align:center;top:927.50px;letter-spacing:0">K</div>
<div class="tx" style="left:946px;width:307px;text-align:center;top:927.50px;letter-spacing:0"><span style="position:relative;top:-1.5px;margin-right:1px">⩽</span>0.01</div>
<div class="rw" style="left:634px;top:947.40px;width:310px;height:22.8px"></div>
<div class="rw" style="left:946px;top:947.40px;width:307px;height:22.8px"></div>
<div class="tx" style="left:634px;width:310px;text-align:center;top:952.40px;letter-spacing:0">Fe</div>
<div class="tx" style="left:946px;width:307px;text-align:center;top:952.40px;letter-spacing:0"><span style="position:relative;top:-1.5px;margin-right:1px">⩽</span>0.005</div>
<div class="rw" style="left:634px;top:972.30px;width:310px;height:22.8px"></div>
<div class="rw" style="left:946px;top:972.30px;width:307px;height:22.8px"></div>
<div class="tx" style="left:634px;width:310px;text-align:center;top:977.30px;letter-spacing:0">Ti</div>
<div class="tx" style="left:946px;width:307px;text-align:center;top:977.30px;letter-spacing:0"><span style="position:relative;top:-1.5px;margin-right:1px">⩽</span>0.01</div>
<div class="rw" style="left:634px;top:997.20px;width:310px;height:22.8px"></div>
<div class="rw" style="left:946px;top:997.20px;width:307px;height:22.8px"></div>
<div class="tx" style="left:634px;width:310px;text-align:center;top:1002.20px;letter-spacing:0">Cu</div>
<div class="tx" style="left:946px;width:307px;text-align:center;top:1002.20px;letter-spacing:0"><span style="position:relative;top:-1.5px;margin-right:1px">⩽</span>0.005</div>
<div class="rw" style="left:634px;top:1022.10px;width:310px;height:22.8px"></div>
<div class="rw" style="left:946px;top:1022.10px;width:307px;height:22.8px"></div>
<div class="tx" style="left:634px;width:310px;text-align:center;top:1027.10px;letter-spacing:0">Cr</div>
<div class="tx" style="left:946px;width:307px;text-align:center;top:1027.10px;letter-spacing:0"><span style="position:relative;top:-1.5px;margin-right:1px">⩽</span>0.005</div>
<div class="rw" style="left:634px;top:1047.00px;width:310px;height:22.8px"></div>
<div class="rw" style="left:946px;top:1047.00px;width:307px;height:22.8px"></div>
<div class="tx" style="left:634px;width:310px;text-align:center;top:1052.00px;letter-spacing:0">Mn</div>
<div class="tx" style="left:946px;width:307px;text-align:center;top:1052.00px;letter-spacing:0"><span style="position:relative;top:-1.5px;margin-right:1px">⩽</span>0.005</div>
<div class="hd" style="left:635px;top:1170.4px;width:309px;height:23.3px"></div>
<div class="hd" style="left:946px;top:1170.4px;width:307px;height:23.3px"></div>
<div class="ht" style="left:680.7px;top:1173.7px;letter-spacing:0">部分色散<span style="margin-left:10px">Partial dispersion</span></div>
<div class="ht" style="left:955.2px;top:1173.7px;letter-spacing:0">部分色散比率 Partial dispersion rate</div>
<div class="rw" style="left:635px;top:1195.00px;width:309px;height:22.8px"></div>
<div class="rw" style="left:946px;top:1195.00px;width:307px;height:22.8px"></div>
<div class="tx" style="left:680.6px;top:1200.8px;letter-spacing:0.6px"><span class="n">n</span>C−<span class="n">n</span>t</div>
<div class="tx" style="left:826.8px;top:1200.8px;">0.00613</div>
<div class="tx" style="left:996.0px;top:1200.8px;letter-spacing:0.6px"><span style="margin-right:3px">θ</span>C.t</div>
<div class="tx" style="left:1139.5px;top:1200.8px;">0.9056</div>
<div class="rw" style="left:635px;top:1219.78px;width:309px;height:22.8px"></div>
<div class="rw" style="left:946px;top:1219.78px;width:307px;height:22.8px"></div>
<div class="tx" style="left:680.6px;top:1225.6px;letter-spacing:0.6px"><span class="n">n</span>C−<span class="n">n</span>A’</div>
<div class="tx" style="left:826.8px;top:1225.6px;">0.00248</div>
<div class="tx" style="left:996.0px;top:1225.6px;letter-spacing:0.6px">θC.A’</div>
<div class="tx" style="left:1139.5px;top:1225.6px;">0.3665</div>
<div class="rw" style="left:635px;top:1244.56px;width:309px;height:22.8px"></div>
<div class="rw" style="left:946px;top:1244.56px;width:307px;height:22.8px"></div>
<div class="tx" style="left:680.6px;top:1250.4px;letter-spacing:0.6px"><span class="n">n</span>d−<span class="n">n</span>C</div>
<div class="tx" style="left:826.8px;top:1250.4px;">0.00209</div>
<div class="tx" style="left:996.0px;top:1250.4px;letter-spacing:0.6px"><span class="n">θ</span>d.C</div>
<div class="tx" style="left:1139.5px;top:1250.4px;">0.3093</div>
<div class="rw" style="left:635px;top:1269.34px;width:309px;height:22.8px"></div>
<div class="rw" style="left:946px;top:1269.34px;width:307px;height:22.8px"></div>
<div class="tx" style="left:680.6px;top:1275.1px;letter-spacing:0.6px"><span class="n">n</span>e−<span class="n">n</span>C</div>
<div class="tx" style="left:826.8px;top:1275.1px;">0.00371</div>
<div class="tx" style="left:996.0px;top:1275.1px;letter-spacing:0.6px"><span class="n">θ</span>e.C</div>
<div class="tx" style="left:1139.5px;top:1275.1px;">0.5480</div>
<div class="rw" style="left:635px;top:1294.12px;width:309px;height:22.8px"></div>
<div class="rw" style="left:946px;top:1294.12px;width:307px;height:22.8px"></div>
<div class="tx" style="left:680.6px;top:1299.9px;letter-spacing:0.6px"><span class="n">n</span>g−<span class="n">n</span>d</div>
<div class="tx" style="left:826.8px;top:1299.9px;">0.00824</div>
<div class="tx" style="left:996.0px;top:1299.9px;letter-spacing:0.6px"><span class="n">θ</span>g.d</div>
<div class="tx" style="left:1139.5px;top:1299.9px;">1.2167</div>
<div class="rw" style="left:635px;top:1318.90px;width:309px;height:22.8px"></div>
<div class="rw" style="left:946px;top:1318.90px;width:307px;height:22.8px"></div>
<div class="tx" style="left:680.6px;top:1324.7px;letter-spacing:0.6px"><span class="n">n</span>g−<span class="n">n</span>F</div>
<div class="tx" style="left:826.8px;top:1324.7px;">0.00356</div>
<div class="tx" style="left:996.0px;top:1324.7px;letter-spacing:0.6px"><span class="n">θ</span>g.F</div>
<div class="tx" style="left:1139.5px;top:1324.7px;">0.5260</div>
<div class="rw" style="left:635px;top:1343.68px;width:309px;height:22.8px"></div>
<div class="rw" style="left:946px;top:1343.68px;width:307px;height:22.8px"></div>
<div class="tx" style="left:680.6px;top:1349.5px;letter-spacing:0.6px"><span class="n">n</span>h−<span class="n">n</span>g</div>
<div class="tx" style="left:826.8px;top:1349.5px;">0.00293</div>
<div class="tx" style="left:996.0px;top:1349.5px;letter-spacing:0.6px"><span class="n">θ</span>h.g</div>
<div class="tx" style="left:1139.5px;top:1349.5px;">0.4323</div>
<div class="rw" style="left:635px;top:1368.46px;width:309px;height:22.8px"></div>
<div class="rw" style="left:946px;top:1368.46px;width:307px;height:22.8px"></div>
<div class="tx" style="left:680.6px;top:1374.3px;letter-spacing:0.6px"><span class="n">n</span>i−<span class="n">n</span>g</div>
<div class="tx" style="left:826.8px;top:1374.3px;">0.00785</div>
<div class="tx" style="left:996.0px;top:1374.3px;letter-spacing:0.6px"><span class="n">θ</span>i.g</div>
<div class="tx" style="left:1139.5px;top:1374.3px;">1.1600</div>
<div class="rw" style="left:635px;top:1393.24px;width:309px;height:22.8px"></div>
<div class="rw" style="left:946px;top:1393.24px;width:307px;height:22.8px"></div>
<div class="tx" style="left:680.6px;top:1399.0px;letter-spacing:0.6px"><span class="n">n</span>C’−<span class="n">n</span>t</div>
<div class="tx" style="left:826.8px;top:1399.0px;">0.00647</div>
<div class="tx" style="left:996.0px;top:1399.0px;letter-spacing:0.6px"><span class="n">θ</span><b style="font-weight:bold;margin:0 10px 0 6px">’</b>C .t’</div>
<div class="tx" style="left:1139.5px;top:1399.0px;">0.9499</div>
<div class="rw" style="left:635px;top:1418.02px;width:309px;height:22.8px"></div>
<div class="rw" style="left:946px;top:1418.02px;width:307px;height:22.8px"></div>
<div class="tx" style="left:680.6px;top:1423.8px;letter-spacing:0.6px"><span class="n">n</span>e−<span class="n">n</span>C’</div>
<div class="tx" style="left:826.8px;top:1423.8px;">0.00337</div>
<div class="tx" style="left:996.0px;top:1423.8px;letter-spacing:0.6px"><span class="n">θ</span><b style="font-weight:bold;margin:0 10px 0 6px">’</b>e.C’</div>
<div class="tx" style="left:1139.5px;top:1423.8px;">0.4952</div>
<div class="rw" style="left:635px;top:1442.80px;width:309px;height:22.8px"></div>
<div class="rw" style="left:946px;top:1442.80px;width:307px;height:22.8px"></div>
<div class="tx" style="left:680.6px;top:1448.6px;letter-spacing:0.6px"><span class="n">n</span>F’−<span class="n">n</span>e</div>
<div class="tx" style="left:826.8px;top:1448.6px;">0.00344</div>
<div class="tx" style="left:996.0px;top:1448.6px;letter-spacing:0.6px"><span class="n">θ</span><b style="font-weight:bold;margin:0 12px 0 6px">’</b>F<span style="margin-left:14px">.e’</span></div>
<div class="tx" style="left:1139.5px;top:1448.6px;">0.5046</div>
<div class="rw" style="left:635px;top:1467.58px;width:309px;height:22.8px"></div>
<div class="rw" style="left:946px;top:1467.58px;width:307px;height:22.8px"></div>
<div class="tx" style="left:680.6px;top:1473.4px;letter-spacing:0.6px"><span class="n">n</span>i−<span class="n">n</span>F</div>
<div class="tx" style="left:826.8px;top:1473.4px;">0.01104</div>
<div class="tx" style="left:996.0px;top:1473.4px;letter-spacing:0.6px"><span class="n">θ</span><b style="font-weight:bold;margin:0 14px 0 6px">’</b>i.F</div>
<div class="tx" style="left:1139.5px;top:1473.4px;">1.6209</div>
<div class="tx" style="left:9px;top:1505px;font-size:17px;letter-spacing:0.9px;color:#2a2a2a">25℃,1013hPa<span style="font-size:18.5px;letter-spacing:0.12px;position:relative;top:-0.5px">干燥的氮气中相关测量值计算得到</span></div>
<div class="tx" style="left:9px;top:1534.5px;font-size:17px;letter-spacing:0.95px;word-spacing:3.5px;color:#2a2a2a">Calculated based on the data measured in dry nitrogen with the</div>
<div class="tx" style="left:9px;top:1556.5px;font-size:17px;letter-spacing:0.9px;color:#2a2a2a">temperature 25℃ and pressure of 1013hPa.</div>
<div class="tx" style="left:9px;top:1584px;font-size:18.5px;letter-spacing:0.6px;color:#2a2a2a">折射率误差范围：<span style="margin-left:0px;font-size:19.5px;letter-spacing:0.6px">±2.0<span style="margin:0 -2px">・</span>10</span><sup style="font-size:10px;position:relative;top:-1px;vertical-align:top">-5</sup></div>
</body></html>
